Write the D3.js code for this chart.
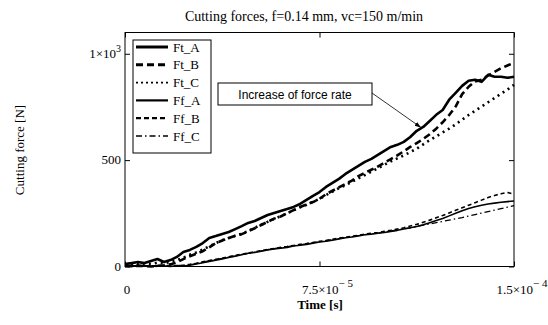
<!DOCTYPE html>
<html>
<head>
<meta charset="utf-8">
<script src="https://cdn.jsdelivr.net/npm/d3@7"></script>
<style>
body { margin: 0; background: #fff; }
text { font-family: "Liberation Serif", "Times New Roman", serif; }
</style>
</head>
<body>
<div id="chart-area"></div>
<script>
// time in microseconds
const timeUs = [0,2.5,5,7.5,10,12.5,15,17.5,20,22.5,25,27.5,30,32.5,35,37.5,40,42.5,45,47.5,
	50,52.5,55,57.5,60,62.5,65,67.5,70,72.5,75,77.5,80,82.5,85,87.5,90,92.5,95,97.5,
	100,102.5,105,107.5,110,112.5,115,117.5,120,122.5,125,127.5,130,132.5,135,137.5,140,142.5,145,147.5,150]

const ftA = [12,16,21,16,26,35,21,30,45,68,78,92,110,134,143,153,162,176,190,205,
	214,228,242,252,261,270,280,294,313,332,350,374,393,412,435,454,473,492,506,525,
	544,562,572,586,609,638,656,684,713,736,784,816,849,873,878,868,901,892,892,887,892]
const ftB = [3,1,4,2,0,3,6,10,20,35,48,60,72,90,110,122,134,145,152,165,
	180,195,210,225,235,250,265,280,292,303,318,340,356,372,388,404,425,440,455,470,
	488,505,522,542,562,580,600,622,648,678,712,752,810,845,870,878,898,915,932,945,958]
const ftC = [8,12,10,14,12,18,15,22,30,42,55,66,80,95,110,124,134,144,154,167,
	182,196,210,224,236,250,264,278,290,304,318,336,352,368,382,398,414,430,446,462,
	478,494,508,522,538,554,574,594,612,630,648,668,690,712,732,752,772,792,812,832,854]
const ffA = [3,5,2,4,1,3,2,0,4,2,6,12,18,24,30,36,42,48,55,62,
	66,72,78,83,86,90,96,100,104,110,115,119,124,130,135,139,144,149,152,156,
	160,165,170,176,182,188,196,206,216,226,238,250,262,273,281,288,294,298,302,305,308]
const ffB = [2,0,3,1,4,0,3,5,2,6,10,15,22,28,34,39,46,52,58,63,
	69,74,80,85,90,94,99,104,108,113,118,122,128,133,138,142,147,152,156,160,
	165,170,176,182,190,198,208,218,229,240,252,264,276,288,300,312,324,334,342,348,340]
const ffC = [4,2,5,3,2,5,1,3,6,4,8,14,20,27,32,38,44,50,57,62,
	68,73,79,84,88,93,98,102,107,112,116,121,126,131,136,140,145,150,154,158,
	162,167,172,177,182,188,194,200,206,212,218,224,230,237,244,251,258,265,272,279,286]

const seriesNames = ["Ft_A", "Ft_B", "Ft_C", "Ff_A", "Ff_B", "Ff_C"]
const seriesValues = [ftA, ftB, ftC, ffA, ffB, ffC]
const xTicks = [0, 75, 150]
const yTicks = [0, 500, 1000]

const styles = {
	"Ft_A": { w: 2.6, dash: null },
	"Ft_B": { w: 2.6, dash: "7,4" },
	"Ft_C": { w: 2.6, dash: "2,4" },
	"Ff_A": { w: 1.6, dash: null },
	"Ff_B": { w: 1.6, dash: "4,3" },
	"Ff_C": { w: 1.3, dash: "6,3,1.5,3" }
}

const W = 548, H = 325
const mLeft = 125, mRight = 514, mTop = 32.5, mBottom = 266.5

const svg = d3.select("#chart-area").append("svg")
	.attr("width", W)
	.attr("height", H)

const x = d3.scaleLinear().domain([0, 150]).range([mLeft, mRight])
const y = d3.scaleLinear().domain([0, 1100]).range([mBottom, mTop])

// curves
const line = d3.line()
	.x((d, i) => x(timeUs[i]))
	.y(d => y(d))

seriesNames.forEach((name, k) => {
	svg.append("path")
		.datum(seriesValues[k])
		.attr("d", line)
		.attr("fill", "none")
		.attr("stroke", "#000")
		.attr("stroke-width", styles[name].w)
		.attr("stroke-dasharray", styles[name].dash)
		.attr("stroke-linejoin", "round")
})

// frame + inward ticks on all sides
svg.append("rect")
	.attr("x", mLeft).attr("y", mTop)
	.attr("width", mRight - mLeft).attr("height", mBottom - mTop)
	.attr("fill", "none").attr("stroke", "#000").attr("stroke-width", 1)

const axes = [
	[d3.axisBottom(x), `translate(0,${mBottom})`],
	[d3.axisTop(x), `translate(0,${mTop})`]
]
axes.forEach(([ax, tr]) => {
	const g = svg.append("g").attr("transform", tr)
		.call(ax.tickValues(xTicks).tickSize(-5).tickFormat(""))
	g.select(".domain").remove()
})
const yaxes = [
	[d3.axisLeft(y), `translate(${mLeft},0)`],
	[d3.axisRight(y), `translate(${mRight},0)`]
]
yaxes.forEach(([ax, tr]) => {
	const g = svg.append("g").attr("transform", tr)
		.call(ax.tickValues(yTicks).tickSize(-5).tickFormat(""))
	g.select(".domain").remove()
})

// tick labels (with superscripts)
const yLab = svg.append("g").attr("font-size", 13).attr("text-anchor", "end")
yTicks.forEach(v => {
	const t = yLab.append("text").attr("x", mLeft - 4).attr("y", y(v) + 4)
	if (v === 1000) {
		t.append("tspan").text("1\u00d710")
		t.append("tspan").attr("font-size", 10).attr("dy", -6).text("3")
	} else {
		t.text(v)
	}
})

const xLabels = { 0: ["0", ""], 75: ["7.5\u00d710", "\u2212 5"], 150: ["1.5\u00d710", "\u2212 4"] }
xTicks.forEach(v => {
	const t = svg.append("text").attr("font-size", 13)
		.attr("x", x(v) + (v === 0 ? 2 : 0)).attr("y", 294)
		.attr("text-anchor", v === 0 ? "middle" : "start")
	t.append("tspan").text(xLabels[v][0])
	if (xLabels[v][1]) {
		t.append("tspan").attr("font-size", 11).attr("dy", -7).text(xLabels[v][1])
		// center the full label on the tick
		const bw = t.node().getComputedTextLength()
		t.attr("x", x(v) - bw / 2 + 8)
	}
})

// titles
svg.append("text")
	.attr("x", 304).attr("y", 21)
	.attr("text-anchor", "middle").attr("font-size", 14)
	.text("Cutting forces, f=0.14 mm, vc=150 m/min")

svg.append("text")
	.attr("x", 320).attr("y", 309)
	.attr("text-anchor", "middle").attr("font-size", 13).attr("font-weight", "bold")
	.text("Time [s]")

svg.append("text")
	.attr("transform", "translate(24,150) rotate(-90)")
	.attr("text-anchor", "middle").attr("font-size", 13)
	.text("Cutting force [N]")

// legend
const leg = svg.append("g")
leg.append("rect")
	.attr("x", 133).attr("y", 40).attr("width", 78).attr("height", 113)
	.attr("fill", "#fff").attr("stroke", "#000").attr("stroke-width", 1)
const legSample = { "Ft_A": [3, null], "Ft_B": [3, "7,4"], "Ft_C": [1.8, "2,3"],
	"Ff_A": [2.2, null], "Ff_B": [2.2, "5,3"], "Ff_C": [1.5, "6,3,1.5,3"] }
seriesNames.forEach((name, i) => {
	const cy = 47 + i * 17.8
	leg.append("line")
		.attr("x1", 136).attr("x2", 168).attr("y1", cy).attr("y2", cy)
		.attr("stroke", "#000")
		.attr("stroke-width", legSample[name][0])
		.attr("stroke-dasharray", legSample[name][1])
	leg.append("text")
		.attr("x", 173).attr("y", cy + 4.5).attr("font-size", 13)
		.text(name)
})

// annotation
svg.append("defs").append("marker")
	.attr("id", "arrow").attr("viewBox", "0 0 10 10")
	.attr("refX", 10).attr("refY", 5)
	.attr("markerWidth", 8).attr("markerHeight", 8)
	.attr("orient", "auto")
	.append("path").attr("d", "M0,1.5 L10,5 L0,8.5 Z").attr("fill", "#000")

svg.append("line")
	.attr("x1", 372).attr("y1", 93).attr("x2", 421).attr("y2", 127.5)
	.attr("stroke", "#000").attr("stroke-width", 0.8)
	.attr("marker-end", "url(#arrow)")

svg.append("rect")
	.attr("x", 218).attr("y", 83).attr("width", 154).attr("height", 22)
	.attr("fill", "#fff").attr("stroke", "#000").attr("stroke-width", 1)

svg.append("text")
	.attr("x", 295).attr("y", 98.5)
	.attr("text-anchor", "middle").attr("font-size", 12)
	.style("font-family", "'Liberation Sans', Arial, sans-serif")
	.text("Increase of force rate")
</script>
</body>
</html>
